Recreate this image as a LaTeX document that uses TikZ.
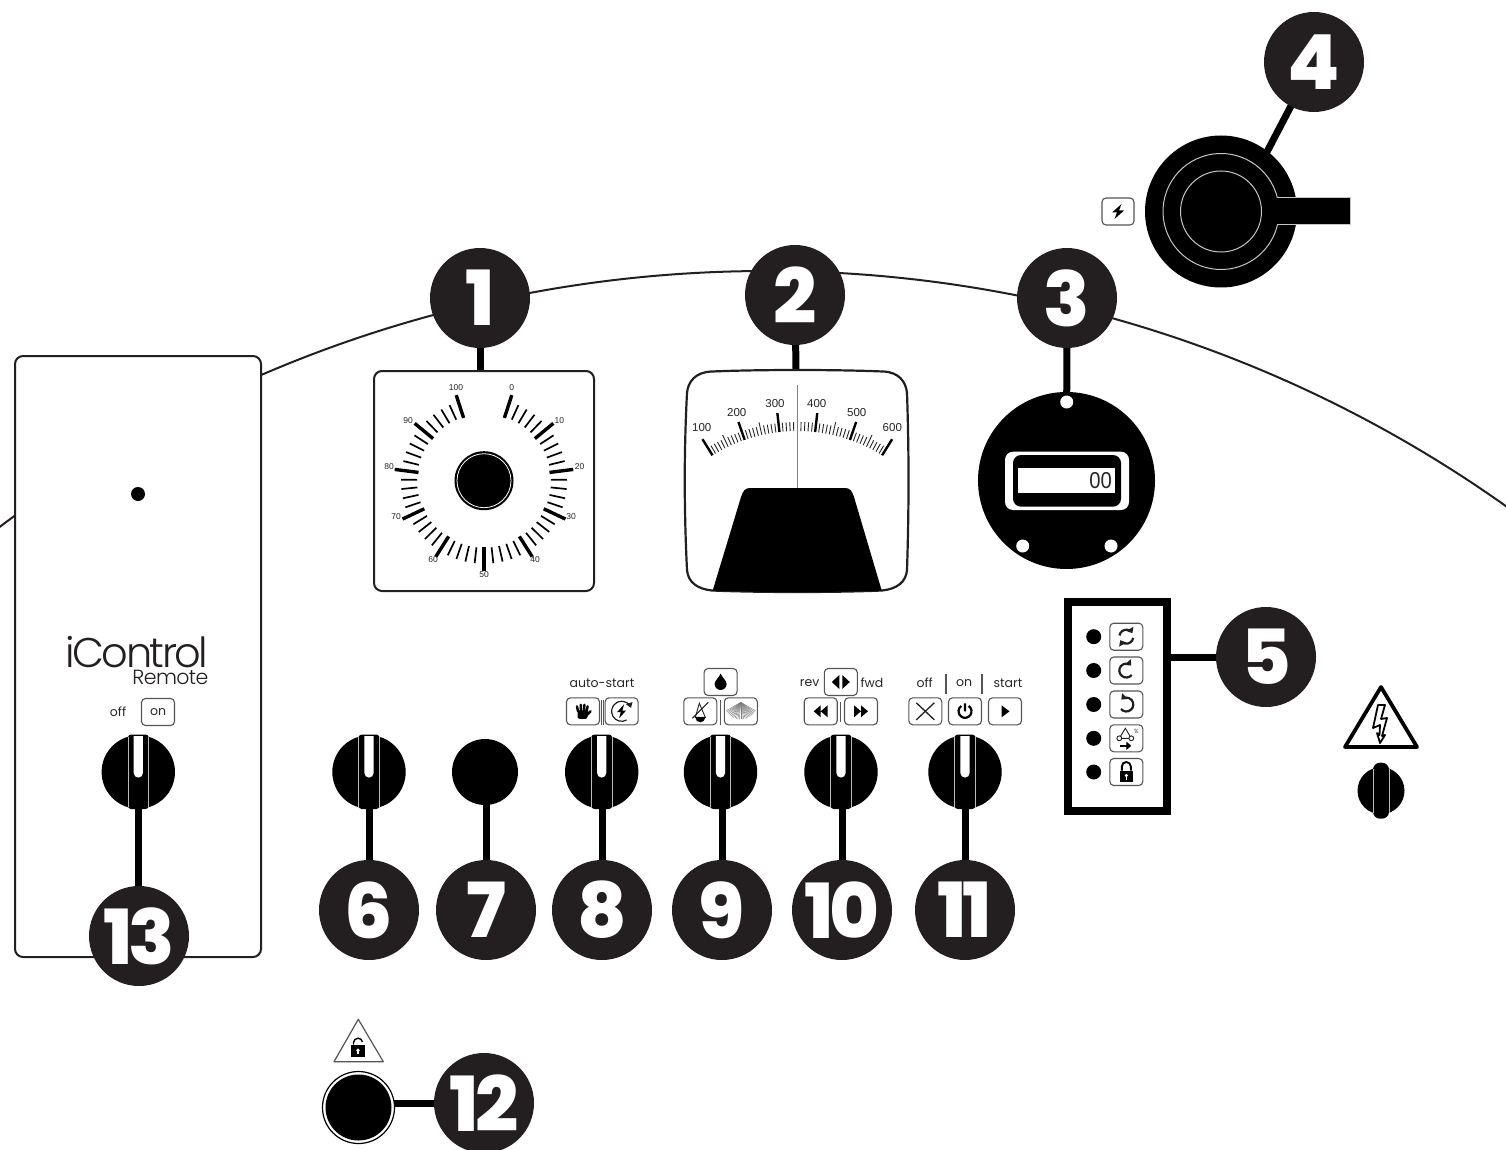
\documentclass[tikz,border=0pt]{standalone}
\usepackage{fontspec}
\setmainfont{Poppins}
\newfontfamily\numf{Poppins}[UprightFont=* ExtraBold]
\newfontfamily\lightf{Poppins}[UprightFont=* Light]
\newfontfamily\arialf{Liberation Sans}
\usetikzlibrary{backgrounds,arrows.meta}
\definecolor{numdark}{HTML}{231F20}
\definecolor{edgegray}{HTML}{555555}
\definecolor{txtgray}{HTML}{262626}
\newcommand\fs[1]{\fontsize{#1}{#1}\selectfont}
\newcommand\icon[2]{\begin{scope}[shift={(#1)},y=1pt]#2\end{scope}}
\newcommand\knobdeco[1]{\icon{#1}{%
  \fill[black,rounded corners=3pt] (-10.3,37.5) rectangle (10.3,-37);
  \draw[gray!55,line width=1pt] (-10.3,35.2) -- (-10.3,-35.2) (10.3,35.2) -- (10.3,-35.2);
  \fill[white] (-4.6,36) -- (-4.6,-1) arc[start angle=180,end angle=360,radius=4.6] -- (4.6,36) -- cycle;}}
\tikzset{
  x=1pt,y=-1pt,
  numc/.style={circle,fill=numdark,text=white,minimum size=100pt,inner sep=0pt,outer sep=0pt,font=\numf\fs{76}},
  knobc/.style={circle,fill=black,minimum size=73.4pt,inner sep=0pt,outer sep=0pt},
  btn/.style={draw=edgegray,line width=1.1pt,rounded corners=4pt,fill=white,minimum width=33pt,minimum height=27pt,inner sep=0pt,text=txtgray},
  conn/.style={line width=7pt,black},
  thinrule/.style={edgegray,line width=1.2pt},
  lab/.style={inner sep=0pt,text=txtgray,font=\fs{12.5}},
  led/.style={circle,fill=black,minimum size=15pt,inner sep=0pt},
  tick/.style={font=\arialf\fs{8.5},text=txtgray,inner sep=0pt},
  mtick/.style={font=\arialf\fs{11.5},text=txtgray,inner sep=0pt},
  panelbox/.style={draw=numdark,line width=2pt,fill=white,rounded corners=8pt,inner sep=0pt},
  hole/.style={circle,fill=white,minimum size=13pt,inner sep=0pt},
  turn/.style={numdark,line width=2.2pt,-{Triangle[length=5pt,width=8pt]}},
}
\begin{document}
\begin{tikzpicture}
\useasboundingbox (0,0) rectangle (1506,1150);
% ---------- dial 1
\node[panelbox,minimum width=220pt,minimum height=220pt] (dial) at (484,481) {};
\icon{484,480.7}{%
  \foreach \i in {0,2,...,100}{%
    \pgfmathsetmacro\ang{90-18-3.24*\i}
    \pgfmathtruncatemacro\m{mod(\i,10)}
    \ifnum\m=0
      \draw[black,line width=3.4pt] (\ang:66) -- (\ang:90);
    \else
      \draw[black,line width=1.7pt] (\ang:67) -- (\ang:83);
    \fi}
  \fill[black] (0,0) circle[radius=29.5];
  \draw[white,line width=.8pt] (0,0) circle[radius=27];}
\node[tick] (d100) at (456,388) {100};
\node[tick] (d0) at (511.7,388) {0};
\node[tick] (d10) at (559.3,421) {10};
\node[tick] (d20) at (579.7,467) {20};
\node[tick] (d30) at (571,516.7) {30};
\node[tick] (d40) at (535,560) {40};
\node[tick] (d50) at (484,574.3) {50};
\node[tick] (d60) at (433,560) {60};
\node[tick] (d70) at (396,516.7) {70};
\node[tick] (d80) at (389,467) {80};
\node[tick] (d90) at (408,421) {90};
% ---------- meter 2
\draw[numdark,line width=2.2pt,fill=white] (712,371.5) .. controls (760,369.5) and (835,369.5) .. (883,371.5)
  .. controls (899,372) and (906,382) .. (907,393)
  .. controls (909,450) and (909,510) .. (907,570)
  .. controls (906,582) and (897,589) .. (882,590.5)
  .. controls (835,592.5) and (760,592.5) .. (712,590.5)
  .. controls (697,589) and (688,582) .. (687,570)
  .. controls (684,510) and (684,450) .. (687,393)
  .. controls (688,382) and (695,372) .. (712,371.5) -- cycle;
\coordinate (meter) at (796,371);
\icon{797.3,591}{%
  \foreach \i in {0,1,...,50}{%
    \pgfmathsetmacro\ang{90+32-1.28*\i}
    \pgfmathtruncatemacro\m{mod(\i,10)}
    \pgfmathtruncatemacro\h{mod(\i,5)}
    \ifnum\m=0
      \draw[black,line width=2.4pt] (\ang:160) -- (\ang:179);
    \else\ifnum\h=0
      \draw[txtgray,line width=.9pt] (\ang:160) -- (\ang:173);
    \else
      \draw[txtgray,line width=.9pt] (\ang:160) -- (\ang:169);
    \fi\fi}}
\node[mtick] (m100) at (701.7,428) {100};
\node[mtick] (m200) at (736.7,412.3) {200};
\node[mtick] (m300) at (775,404) {300};
\node[mtick] (m400) at (816.7,404) {400};
\node[mtick] (m500) at (856.7,412.3) {500};
\node[mtick] (m600) at (892.3,428) {600};
\draw[gray,line width=1.1pt] (797.3,385) -- (797.3,490);
\fill[black] (712.7,590.5) -- (741,497) .. controls (743,491) and (745,488) .. (750,488) -- (845,488)
  .. controls (850,488) and (852,491) .. (854,497) -- (881.7,590.5) .. controls (835,592.5) and (760,592.5) .. (712.7,590.5) -- cycle;
% ---------- hour meter 3
\node[circle,fill=black,minimum size=177pt,inner sep=0pt,outer sep=0pt] (gauge) at (1066.5,480.5) {};
\node[hole] (h1) at (1066.7,402) {};
\node[hole] (h2) at (1022.7,546) {};
\node[hole] (h3) at (1111,546) {};
\fill[white,rounded corners=8pt] (1005,451.7) rectangle (1129,510);
\fill[black,rounded corners=8pt] (1013,455) rectangle (1121,506.7);
\fill[white] (1018.3,467.7) rectangle (1115,493);
\node[inner sep=0pt,anchor=east,text=txtgray,font=\arialf\fs{23}] (count) at (1112,481) {\scalebox{.88}[1]{00}};
% ---------- pump switch 4
\node[circle,fill=black,minimum size=152pt,inner sep=0pt,outer sep=0pt] (pump) at (1221,211.5) {};
\coordinate (pumpin) at (1236,211);
\icon{pump}{%
  \draw[gray!45,line width=1pt] (0,0) circle[radius=40.5];
  \draw[gray!45,line width=1pt] (13.5:58) arc[start angle=13.5,end angle=346.5,radius=58];
  \fill[black] (56,13.5) rectangle (129,-13.5);
  \draw[gray!45,line width=1pt] (56.4,13.5) -- (129,13.5) -- (129,-13.5) -- (56.4,-13.5);}
\node[btn,minimum width=32pt] (bbolt) at (1118,211.5) {};
\icon{bbolt}{\fill[black] (3.5,7.5) -- (-6,-1) -- (-1,-1) -- (-3.5,-7.5) -- (6,1) -- (1,1) -- cycle;}
% ---------- box 5
\node[draw=black,line width=8pt,fill=white,minimum width=99pt,minimum height=209pt,inner sep=0pt] (box) at (1117,706.3) {};
\foreach \y [count=\n] in {636.7,670.5,704.5,738.3,772}{%
  \node[led] (led\n) at (1093.7,\y) {};
  \node[btn] (st\n) at (1126.3,\y) {};}
\icon{st1}{%
  \draw[turn] (170:7) arc[start angle=170,end angle=30,radius=7];
  \draw[turn] (-10:7) arc[start angle=-10,end angle=-150,radius=7];}
\icon{st2}{\draw[turn] (-40:7) arc[start angle=-40,end angle=-315,radius=7];}
\icon{st3}{\draw[turn] (220:7) arc[start angle=220,end angle=495,radius=7];}
\icon{st4}{%
  \draw[numdark,line width=.9pt] (-1,10) -- (-7,0) -- (5,0) -- cycle;
  \draw[numdark,line width=.9pt,fill=white] (-7,0) circle[radius=2.4] (5,0) circle[radius=2.4];
  \draw[black,line width=2pt,-{Triangle[length=5pt,width=8pt]}] (-6,-7.5) -- (5,-7.5);
  \node[inner sep=0pt,font=\fs{6},text=txtgray] (pct) at (10,7) {\%};}
\icon{st5}{%
  \fill[black] (-6.5,-10) rectangle (6.5,1.5);
  \fill[white] (0,-3.5) circle[radius=1.8];
  \draw[white,line width=1.2pt] (0,-3.5) -- (0,-7.5);
  \draw[black,line width=1.9pt] (-4.5,1.5) -- (-4.5,5.5) arc[start angle=180,end angle=0,radius=4.5] -- (4.5,1.5);}
% ---------- warning symbol and isolator
\draw[black,line width=3.8pt,line join=round,fill=white] (1381,687) -- (1345,747) -- (1417,747) -- cycle;
\draw[black,line width=1.8pt,fill=white,line join=round] (1378,705) -- (1385,705) -- (1381,719) -- (1387,718) -- (1382,736) -- (1385,735) -- (1380,743) -- (1377,733) -- (1379.5,735) -- (1380,725) -- (1373,728) -- cycle;
\node[circle,fill=black,minimum size=47pt,inner sep=0pt] (iso) at (1381,790.7) {};
\icon{iso}{%
  \fill[black,rounded corners=7pt] (-8,28) rectangle (8,-28);
  \draw[gray!55,line width=1pt] (-8,22) -- (-8,-22) (8,22) -- (8,-22);}
% ---------- rotary knobs
\node[knobc] (k13) at (138.3,772) {};
\node[knobc] (k6) at (369,772) {};
\node[circle,fill=black,minimum size=66pt,inner sep=0pt,outer sep=0pt] (k7) at (485,772) {};
\node[knobc] (k8) at (601.7,772) {};
\node[knobc] (k9) at (720.5,772) {};
\node[knobc] (k10) at (841,772) {};
\node[knobc] (k11) at (965,772) {};
\knobdeco{k13}\knobdeco{k6}\knobdeco{k8}\knobdeco{k9}\knobdeco{k10}\knobdeco{k11}
% ---------- mode labels and buttons
\node[lab] (tauto) at (602,683) {auto-start};
\node[btn] (bhand) at (583,711.3) {};
\node[btn] (brest) at (621.6,711.3) {};
\draw[thinrule] (601.6,700) -- (601.6,725) (603.2,700) -- (603.2,725);
\icon{bhand}{%
  \fill[black,rounded corners=2pt] (-5.5,-7.5) rectangle (4.5,1);
  \draw[black,line width=2.4pt,line cap=round] (-5,0) -- (-6,5) (-2,0) -- (-2.2,6.5) (1,0) -- (1.4,6.5) (3.5,-1) -- (4.6,5) (3.5,-4) -- (7.5,0);}
\icon{brest}{%
  \draw[numdark,line width=1.2pt,-{Triangle[length=5pt,width=6.5pt]}] (-60:10) arc[start angle=-60,end angle=-340,radius=10];
  \fill[black] (2.5,7) -- (-4.5,-.8) -- (-.8,-.8) -- (-2.5,-7) -- (4.5,.8) -- (.8,.8) -- cycle;}
\node[btn] (bdrop) at (720.6,682) {};
\node[btn] (bnos) at (700.3,711.3) {};
\node[btn] (bspr) at (740.8,711.3) {};
\draw[thinrule,line width=1.4pt] (720.5,700) -- (720.5,725);
\icon{bdrop}{\fill[black] (0,8.5) .. controls (-1,5) and (-6,1.5) .. (-6,-2) arc[start angle=180,end angle=360,radius=6] .. controls (6,1.5) and (1,5) .. (0,8.5) -- cycle;}
\icon{bnos}{%
  \draw[numdark,line width=.9pt] (-1,8) -- (-5,-6) -- (5,-6) -- cycle;
  \fill[black] (-5,-6) arc[start angle=180,end angle=360,radius=5] -- cycle;
  \draw[numdark,line width=1pt] (-8,-7) -- (8,9);}
\icon{bspr}{\foreach \a in {-60,-55,...,60}{\draw[gray,line width=.45pt] (0,9) -- ++(-90+\a:17);}}
\node[lab] (trev) at (809.6,683) {rev};
\node[btn] (blr) at (840.8,682) {};
\node[lab] (tfwd) at (872,683) {fwd};
\node[btn] (brew) at (820.7,711.3) {};
\node[btn] (bff) at (861,711.3) {};
\draw[thinrule] (840.7,701.7) -- (840.7,722);
\icon{blr}{\fill[black] (-1.5,7) -- (-9,0) -- (-1.5,-7) -- cycle (1.5,7) -- (9,0) -- (1.5,-7) -- cycle;}
\icon{brew}{\fill[black] (0,6) -- (-7,0) -- (0,-6) -- cycle (7,6) -- (0,0) -- (7,-6) -- cycle;}
\icon{bff}{\fill[black] (0,6) -- (7,0) -- (0,-6) -- cycle (-7,6) -- (0,0) -- (-7,-6) -- cycle;}
\node[lab] (toff) at (924.7,683) {off};
\node[lab] (ton) at (964,683) {on};
\node[lab] (tstart) at (1008,683) {start};
\draw[thinrule,line width=1.6pt] (945.7,674) -- (945.7,694) (981.7,674) -- (981.7,694);
\node[btn] (bx) at (925.3,711.3) {};
\node[btn] (bpow) at (965,711.3) {};
\node[btn] (bplay) at (1005,711.3) {};
\icon{bx}{\draw[numdark,line width=1.3pt] (-9,-8.5) -- (9,8.5) (-9,8.5) -- (9,-8.5);}
\icon{bpow}{\draw[black,line width=2.2pt] (55:6.5) arc[start angle=55,end angle=-235,radius=6.5] (0,8) -- (0,0);}
\icon{bplay}{\fill[black] (-3.5,6) -- (4.5,0) -- (-3.5,-6) -- cycle;}
% ---------- remote panel text
\node[circle,fill=black,minimum size=14pt,inner sep=0pt] (rdot) at (138,494) {};
\node[inner sep=0pt,anchor=base east,text=numdark,font=\lightf\fs{41.5}] (ictl) at (208.5,667) {\addfontfeature{LetterSpace=-6}iControl};
\node[inner sep=0pt,anchor=base east,text=numdark,font=\lightf\fs{20.5}] (rem) at (208.5,684.5) {\addfontfeature{LetterSpace=-3}Remote};
\node[lab] (roff) at (118,712) {off};
\node[btn,font=\fs{12.5}] (ron) at (158,712) {on};
% ---------- lock warning and stop button
\draw[edgegray,line width=1.2pt,line join=round,fill=white] (358.3,1019.3) -- (334,1061.7) -- (383.3,1061.7) -- cycle;
\icon{358,1046.7}{%
  \fill[black] (-7,-10) rectangle (7,2);
  \fill[white] (0,-3.5) circle[radius=1.8];
  \draw[white,line width=1.2pt] (0,-3.5) -- (0,-7.5);
  \draw[black,line width=1.4pt] (-4.5,2) -- (-4.5,4) arc[start angle=180,end angle=10,radius=4.5];}
\node[circle,draw=black,line width=1.2pt,minimum size=72pt,inner sep=0pt,outer sep=0pt,fill=white] (stopr) at (358.5,1107.5) {};
\node[circle,fill=black,minimum size=66pt,inner sep=0pt,outer sep=0pt] (stopb) at (358.5,1107.5) {};
% ---------- numbered callouts
\node[numc] (n1) at (480,298) {1};
\node[numc] (n2) at (795,295) {2};
\node[numc] (n3) at (1067,298) {3};
\node[numc] (n4) at (1314,62) {4};
\node[numc] (n5) at (1266,657) {5};
\node[numc] (n6) at (369,910) {6};
\node[numc] (n7) at (486,910) {7};
\node[numc] (n8) at (602,910) {8};
\node[numc] (n9) at (722,910) {9};
\node[numc] (n10) at (842,910) {\addfontfeature{LetterSpace=-6}10};
\node[numc] (n11) at (965,910) {\addfontfeature{LetterSpace=-6}11};
\node[numc] (n12) at (484,1103) {\addfontfeature{LetterSpace=-5}12};
\node[numc] (n13) at (139,936) {\addfontfeature{LetterSpace=-6}13};
% ---------- background: arc, remote panel, connectors
\begin{scope}[on background layer]
  \draw[numdark,line width=2pt] (767,1549) circle[radius=1278pt];
  \node[panelbox,minimum width=246pt,minimum height=601pt] (remote) at (138,656.5) {};
  \draw[conn] (n1.center) -- (dial.north -| n1.center);
  \draw[conn] (n2.center) -- (meter);
  \draw[conn] (n3.center) -- (h1);
  \draw[conn] (n4.center) -- (pumpin);
  \draw[conn] (n5.center) -- (box.east |- n5.center);
  \draw[conn] (n6.center) -- (k6.center);
  \draw[conn] (n7.center) -- (n7.center |- k7.center);
  \draw[conn] (n8.center) -- (n8.center |- k8.center);
  \draw[conn] (n9.center) -- (n9.center |- k9.center);
  \draw[conn] (n10.center) -- (n10.center |- k10.center);
  \draw[conn] (n11.center) -- (k11.center);
  \draw[conn] (n12.center) -- (stopb.center |- n12.center);
  \draw[conn] (k13.center) -- (k13.center |- n13.center);
\end{scope}
\end{tikzpicture}
\end{document}
